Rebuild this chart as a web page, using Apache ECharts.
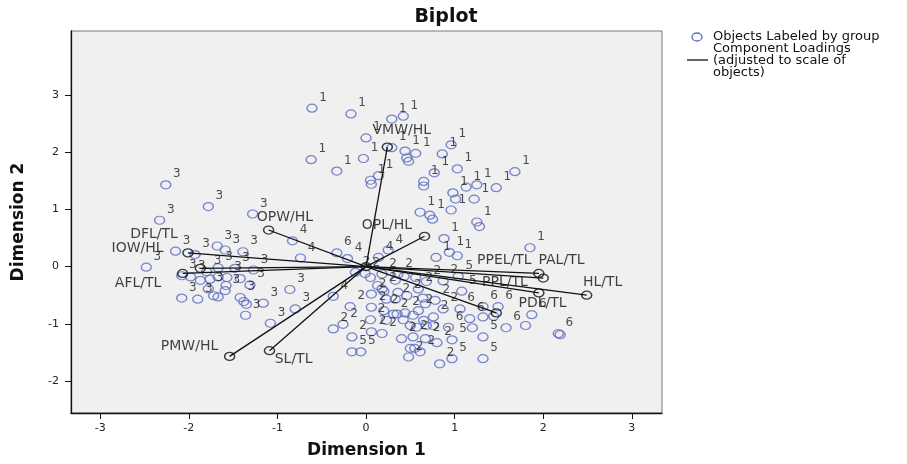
<!DOCTYPE html>
<html>
<head>
<meta charset="utf-8">
<title>Biplot</title>
<script src="https://cdn.jsdelivr.net/npm/echarts@6.0.0/dist/echarts.min.js"></script>
<style>
html, body { margin: 0; padding: 0; background: #fff; }
#chart { width: 907px; height: 464px; }
</style>
</head>
<body>
<div id="chart"></div>
<script>
// object scores, one list per group
var group1 = [[-0.61,2.77],[-0.17,2.67],[0.29,2.58],[0.42,2.63],[0.00,2.25],[0.29,2.08],[0.44,2.02],[0.56,1.98],
  [0.46,1.90],[0.48,1.84],[0.96,2.13],[0.86,1.97],[-0.62,1.87],[-0.03,1.89],[-0.33,1.67],[0.14,1.59],[0.05,1.51],
  [0.06,1.44],[0.77,1.64],[1.03,1.71],[0.65,1.49],[0.65,1.41],[0.98,1.29],[1.01,1.18],[1.13,1.39],[0.61,0.95],
  [0.96,0.99],[1.68,1.66],[1.25,1.43],[1.47,1.38],[1.22,1.18],[0.72,0.90],[0.75,0.83],[1.25,0.78],[1.28,0.70],
  [0.88,0.49],[1.85,0.33],[0.94,0.25],[1.03,0.19],[0.79,0.16]];
var group2 = [[-0.12,-0.10],[-0.01,-0.12],[0.18,-0.13],[0.36,-0.13],[0.05,-0.19],[0.33,-0.24],[0.13,-0.33],
  [0.18,-0.39],[0.20,-0.43],[0.06,-0.48],[0.23,-0.57],[0.33,-0.57],[0.46,-0.51],[0.59,-0.39],[0.68,-0.26],
  [0.87,-0.25],[-0.18,-0.70],[0.06,-0.71],[0.20,-0.77],[0.31,-0.83],[0.44,-0.81],[0.59,-0.77],[0.67,-0.65],
  [0.78,-0.59],[0.87,-0.74],[0.05,-0.93],[0.23,-0.94],[0.42,-0.93],[0.53,-0.85],[0.65,-0.94],[0.76,-0.88],
  [0.06,-1.14],[0.18,-1.17],[0.40,-1.26],[0.53,-1.23],[0.67,-1.26],[0.80,-1.33],[0.50,-1.43],[0.55,-1.43],
  [0.61,-1.49],[0.48,-1.58],[0.83,-1.70],[0.50,-1.03],[0.57,-1.06],[0.68,-1.03],[0.76,-1.03],[-0.37,-1.09],
  [-0.26,-1.01],[-0.16,-1.23]];
var group3 = [[-2.33,0.81],[-1.78,1.05],[-1.28,0.92],[-2.26,1.43],[-2.15,0.27],[-1.93,0.21],[-1.68,0.36],
  [-1.59,0.29],[-1.39,0.26],[-2.48,-0.01],[-2.08,-0.16],[-1.98,-0.18],[-1.80,-0.09],[-1.67,-0.02],[-1.48,-0.03],
  [-1.27,-0.06],[-1.87,-0.24],[-1.76,-0.22],[-1.67,-0.18],[-1.57,-0.19],[-1.42,-0.21],[-1.31,-0.32],[-1.78,-0.39],
  [-1.58,-0.33],[-1.59,-0.42],[-2.08,-0.55],[-1.90,-0.57],[-1.72,-0.51],[-1.67,-0.53],[-1.42,-0.54],[-1.38,-0.61],
  [-1.35,-0.66],[-1.16,-0.64],[-1.36,-0.85],[-1.08,-0.99],[-0.86,-0.40],[-0.80,-0.74]];
var group4 = [[-0.83,0.45],[-0.74,0.15],[-0.21,0.14],[0.25,0.29],[0.14,0.16],[-0.37,-0.52],[0.36,-0.45],
  [0.64,-0.55],[0.35,-0.83]];
var group5 = [[0.43,-0.17],[0.56,-0.19],[1.04,-0.17],[1.08,-0.43],[0.97,-1.28],[1.32,-1.23],[1.32,-1.61],
  [0.97,-1.61],[-0.16,-1.49],[-0.06,-1.49]];
var group6 = [[-0.33,0.24],[1.06,-0.74],[1.32,-0.70],[1.49,-0.70],[1.17,-0.91],[1.32,-0.88],[1.44,-0.87],
  [1.87,-0.84],[1.80,-1.03],[2.17,-1.17],[2.19,-1.19],[1.20,-1.07],[1.58,-1.07],[0.93,-1.06]];

// component loadings (adjusted to scale of objects)
var loadingNames = ['VMW/HL','OPL/HL','PPEL/TL','PAL/TL','PPL/TL','PDL/TL','HL/TL','SL/TL','PMW/HL','OPW/HL','DFL/TL','IOW/HL','AFL/TL'];
var loadingX = [0.24, 0.66, 1.95, 2.00, 1.95, 1.47, 2.49, -1.09, -1.54, -1.10, -2.01, -1.87, -2.07];
var loadingY = [2.09, 0.53, -0.12, -0.20, -0.46, -0.81, -0.50, -1.47, -1.57, 0.64, 0.24, -0.03, -0.12];

var xTicks = [-3, -2, -1, 0, 1, 2, 3];
var yTicks = [-2, -1, 0, 1, 2, 3];

// where each loading name sits, px from its end point (text left, text middle)
var nameOffset = {
  'VMW/HL': [-14, -16], 'OPL/HL': [-62, -10], 'PPEL/TL': [-61, -12], 'PAL/TL': [-4, -17],
  'PPL/TL': [-56, -10], 'PDL/TL': [23, -9], 'HL/TL': [-3, -12], 'SL/TL': [6, 9],
  'PMW/HL': [-68, -9], 'OPW/HL': [-11, -12], 'DFL/TL': [-57, -18], 'IOW/HL': [-88, -19], 'AFL/TL': [-67, 11]
};

var font = 'DejaVu Sans';
var myChart = echarts.init(document.getElementById('chart'));

function groupSeries(name, pts) {
  return {
    type: 'scatter',
    name: name,
    data: pts,
    symbol: 'circle',
    symbolSize: [10, 8],
    itemStyle: { color: 'rgba(0,0,0,0)', borderColor: '#5a6cc2', borderWidth: 1.3 },
    label: {
      show: true, formatter: name, position: [13, -12],
      fontSize: 12, color: '#222', fontFamily: font
    },
    labelLayout: { hideOverlap: true },
    emphasis: { disabled: true },
    z: 3
  };
}

var vectors = [];
var ends = [];
for (var i = 0; i < loadingNames.length; i++) {
  vectors.push({ coords: [[0, 0], [loadingX[i], loadingY[i]]] });
  var off = nameOffset[loadingNames[i]];
  ends.push({
    value: [loadingX[i], loadingY[i]],
    label: { show: true, formatter: loadingNames[i], position: [off[0] + 5, off[1] + 4] }
  });
}
ends.push({ value: [0, 0], label: { show: false } });

var series = [
  groupSeries('1', group1),
  groupSeries('2', group2),
  groupSeries('3', group3),
  groupSeries('4', group4),
  groupSeries('5', group5),
  groupSeries('6', group6),
  {
    type: 'lines',
    coordinateSystem: 'cartesian2d',
    data: vectors,
    lineStyle: { color: '#111', width: 1.3, opacity: 1 },
    silent: true,
    z: 4
  },
  {
    type: 'scatter',
    data: ends,
    symbol: 'circle',
    symbolSize: [10, 8],
    itemStyle: { color: 'rgba(0,0,0,0)', borderColor: '#111', borderWidth: 1.4 },
    label: { fontSize: 14, color: '#111', fontFamily: font, align: 'left', verticalAlign: 'middle' },
    emphasis: { disabled: true },
    z: 5
  }
];

option = {
  animation: false,
  grid: {
    left: 71, right: 245, top: 31, bottom: 47,
    show: true, backgroundColor: '#f0f0f0', borderColor: '#777', borderWidth: 1
  },
  xAxis: {
    type: 'value', min: -3.33, max: 3.34,
    name: 'Dimension 1', nameLocation: 'middle', nameGap: 29,
    nameTextStyle: { fontSize: 17, fontWeight: 'bold', color: '#111', fontFamily: font },
    axisLine: { show: true, onZero: false, lineStyle: { color: '#111', width: 1.3 } },
    axisTick: { show: true, length: 6, customValues: xTicks, lineStyle: { color: '#111' } },
    axisLabel: { customValues: xTicks, margin: 10, fontSize: 11, color: '#222', fontFamily: font },
    splitLine: { show: false }
  },
  yAxis: {
    type: 'value', min: -2.56, max: 4.12,
    name: 'Dimension 2', nameLocation: 'middle', nameGap: 44,
    nameTextStyle: { fontSize: 17, fontWeight: 'bold', color: '#111', fontFamily: font },
    axisLine: { show: true, onZero: false, lineStyle: { color: '#111', width: 1.3 } },
    axisTick: { show: true, length: 6, customValues: yTicks, lineStyle: { color: '#111' } },
    axisLabel: { customValues: yTicks, margin: 12, fontSize: 11, color: '#222', fontFamily: font },
    splitLine: { show: false }
  },
  graphic: [
    { type: 'text', x: 446, y: 17, style: { text: 'Biplot', font: 'bold 19px DejaVu Sans', fill: '#111', textAlign: 'center', textVerticalAlign: 'middle' } },
    { type: 'ellipse', shape: { cx: 697, cy: 37, rx: 5, ry: 4 }, style: { fill: 'none', stroke: '#5a6cc2', lineWidth: 1.3 } },
    { type: 'text', x: 713, y: 37, style: { text: 'Objects Labeled by group', font: '13px DejaVu Sans', fill: '#111', textVerticalAlign: 'middle' } },
    { type: 'line', shape: { x1: 687, y1: 60, x2: 708, y2: 60 }, style: { stroke: '#111', lineWidth: 1.3 } },
    { type: 'text', x: 713, y: 43, style: { text: 'Component Loadings\n(adjusted to scale of\nobjects)', font: '13px DejaVu Sans', lineHeight: 12, fill: '#111' } }
  ],
  series: series
};

myChart.setOption(option);
</script>
</body>
</html>
